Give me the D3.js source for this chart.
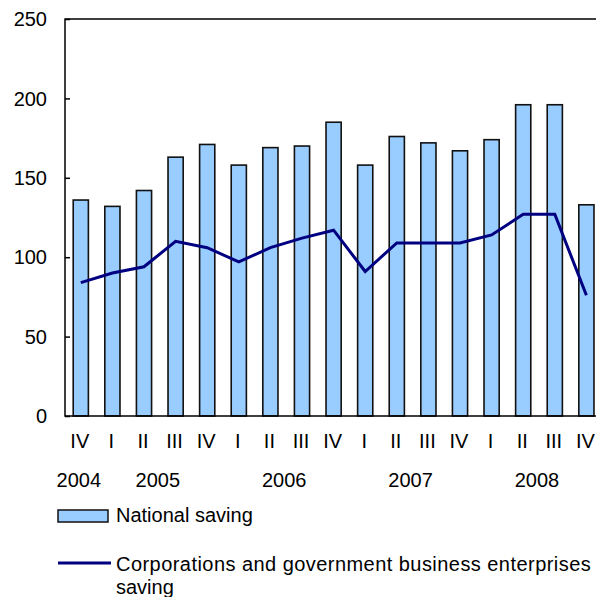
<!DOCTYPE html>
<html>
<head>
<meta charset="utf-8">
<script src="https://cdn.jsdelivr.net/npm/d3@7"></script>
<style>
  body { margin: 0; background: #fff; }
  svg text { font-family: "Liberation Sans", Arial, sans-serif; fill: #000; }
</style>
</head>
<body>
<div id="chart"></div>
<script>
// quarters from 2004 IV to 2008 IV
var quarters = ["IV", "I", "II", "III", "IV", "I", "II", "III", "IV", "I", "II", "III", "IV", "I", "II", "III", "IV"];
var years = ["2004", "2005", "2006", "2007", "2008"];
var yearQuarters = [[0], [1, 4], [5, 8], [9, 12], [13, 16]];   // first/last quarter index of each year
var nationalSaving = [136, 132, 142, 163, 171, 158, 169, 170, 185, 158, 176, 172, 167, 174, 196, 196, 133];
var corpSaving = [84, 90, 94, 110, 106, 97, 106, 112, 117, 91, 109, 109, 109, 114, 127, 127, 76];
var yTicks = [0, 50, 100, 150, 200, 250];

var w = 596, h = 597;
var plotLeft = 65, plotTop = 19, plotBottom = 416;
var step = 31.6;

var svg = d3.select("#chart").append("svg")
    .attr("width", w)
    .attr("height", h);

var idx = quarters.map(function (d, i) { return i; });

var x = d3.scaleBand()
    .domain(idx)
    .range([plotLeft, plotLeft + step * quarters.length])
    .paddingInner(0.52)
    .paddingOuter(0.26);

var y = d3.scaleLinear()
    .domain([0, 250])
    .range([plotBottom, plotTop]);

var cx = function (i) { return x(i) + x.bandwidth() / 2; };

// bars
svg.selectAll("rect.bar")
    .data(nationalSaving)
    .enter()
    .append("rect")
    .attr("class", "bar")
    .attr("x", function (d, i) { return x(i); })
    .attr("y", function (d) { return y(d); })
    .attr("width", x.bandwidth())
    .attr("height", function (d) { return y(0) - y(d); })
    .style("fill", "#99ccff")
    .style("stroke", "#111")
    .style("stroke-width", 1.6);

// line
var line = d3.line()
    .x(function (d, i) { return cx(i); })
    .y(function (d) { return y(d); });

svg.append("path")
    .datum(corpSaving)
    .attr("d", line)
    .style("fill", "none")
    .style("stroke", "#000080")
    .style("stroke-width", 3);

// frame: left, top, bottom
var xEnd = x.range()[1];
svg.append("path")
    .attr("d", "M" + xEnd + "," + y(250) + "H" + plotLeft + "V" + y(0) + "H" + xEnd)
    .style("fill", "none")
    .style("stroke", "#000")
    .style("stroke-width", 1.5);

// y axis ticks (inside) and labels
var yAxis = d3.axisRight(y)
    .tickValues(yTicks)
    .tickSize(5)
    .tickFormat("");
svg.append("g")
    .attr("transform", "translate(" + plotLeft + ",0)")
    .call(yAxis)
    .call(function (g) { g.select(".domain").remove(); })
    .selectAll("line").style("stroke", "#000").style("stroke-width", 1.5);

svg.selectAll("text.ylab")
    .data(yTicks)
    .enter()
    .append("text")
    .attr("class", "ylab")
    .attr("x", 47)
    .attr("y", function (d) { return y(d); })
    .attr("dy", "0.36em")
    .attr("text-anchor", "end")
    .style("font-size", "20px")
    .text(function (d) { return d; });

// quarter labels
svg.selectAll("text.qlab")
    .data(quarters)
    .enter()
    .append("text")
    .attr("class", "qlab")
    .attr("x", function (d, i) { return cx(i) - 1; })
    .attr("y", 448)
    .attr("text-anchor", "middle")
    .style("font-size", "20px")
    .text(function (d) { return d; });

// year labels
svg.selectAll("text.yearlab")
    .data(years)
    .enter()
    .append("text")
    .attr("class", "yearlab")
    .attr("x", function (d, i) {
        var q = yearQuarters[i];
        return (cx(q[0]) + cx(q[q.length - 1])) / 2 - 2;
    })
    .attr("y", 487)
    .attr("text-anchor", "middle")
    .style("font-size", "20px")
    .text(function (d) { return d; });

// legend
svg.append("rect")
    .attr("x", 58).attr("y", 510)
    .attr("width", 50).attr("height", 12)
    .style("fill", "#99ccff")
    .style("stroke", "#111")
    .style("stroke-width", 1.5);
svg.append("text")
    .attr("x", 116).attr("y", 522)
    .style("font-size", "20px")
    .text("National saving");

svg.append("line")
    .attr("x1", 58).attr("x2", 111)
    .attr("y1", 563).attr("y2", 563)
    .style("stroke", "#000080")
    .style("stroke-width", 3);
svg.append("text")
    .attr("x", 116).attr("y", 571)
    .style("font-size", "20px")
    .style("letter-spacing", "0.45px")
    .text("Corporations and government business enterprises");
svg.append("text")
    .attr("x", 116).attr("y", 594)
    .style("font-size", "20px")
    .text("saving");
</script>
</body>
</html>
